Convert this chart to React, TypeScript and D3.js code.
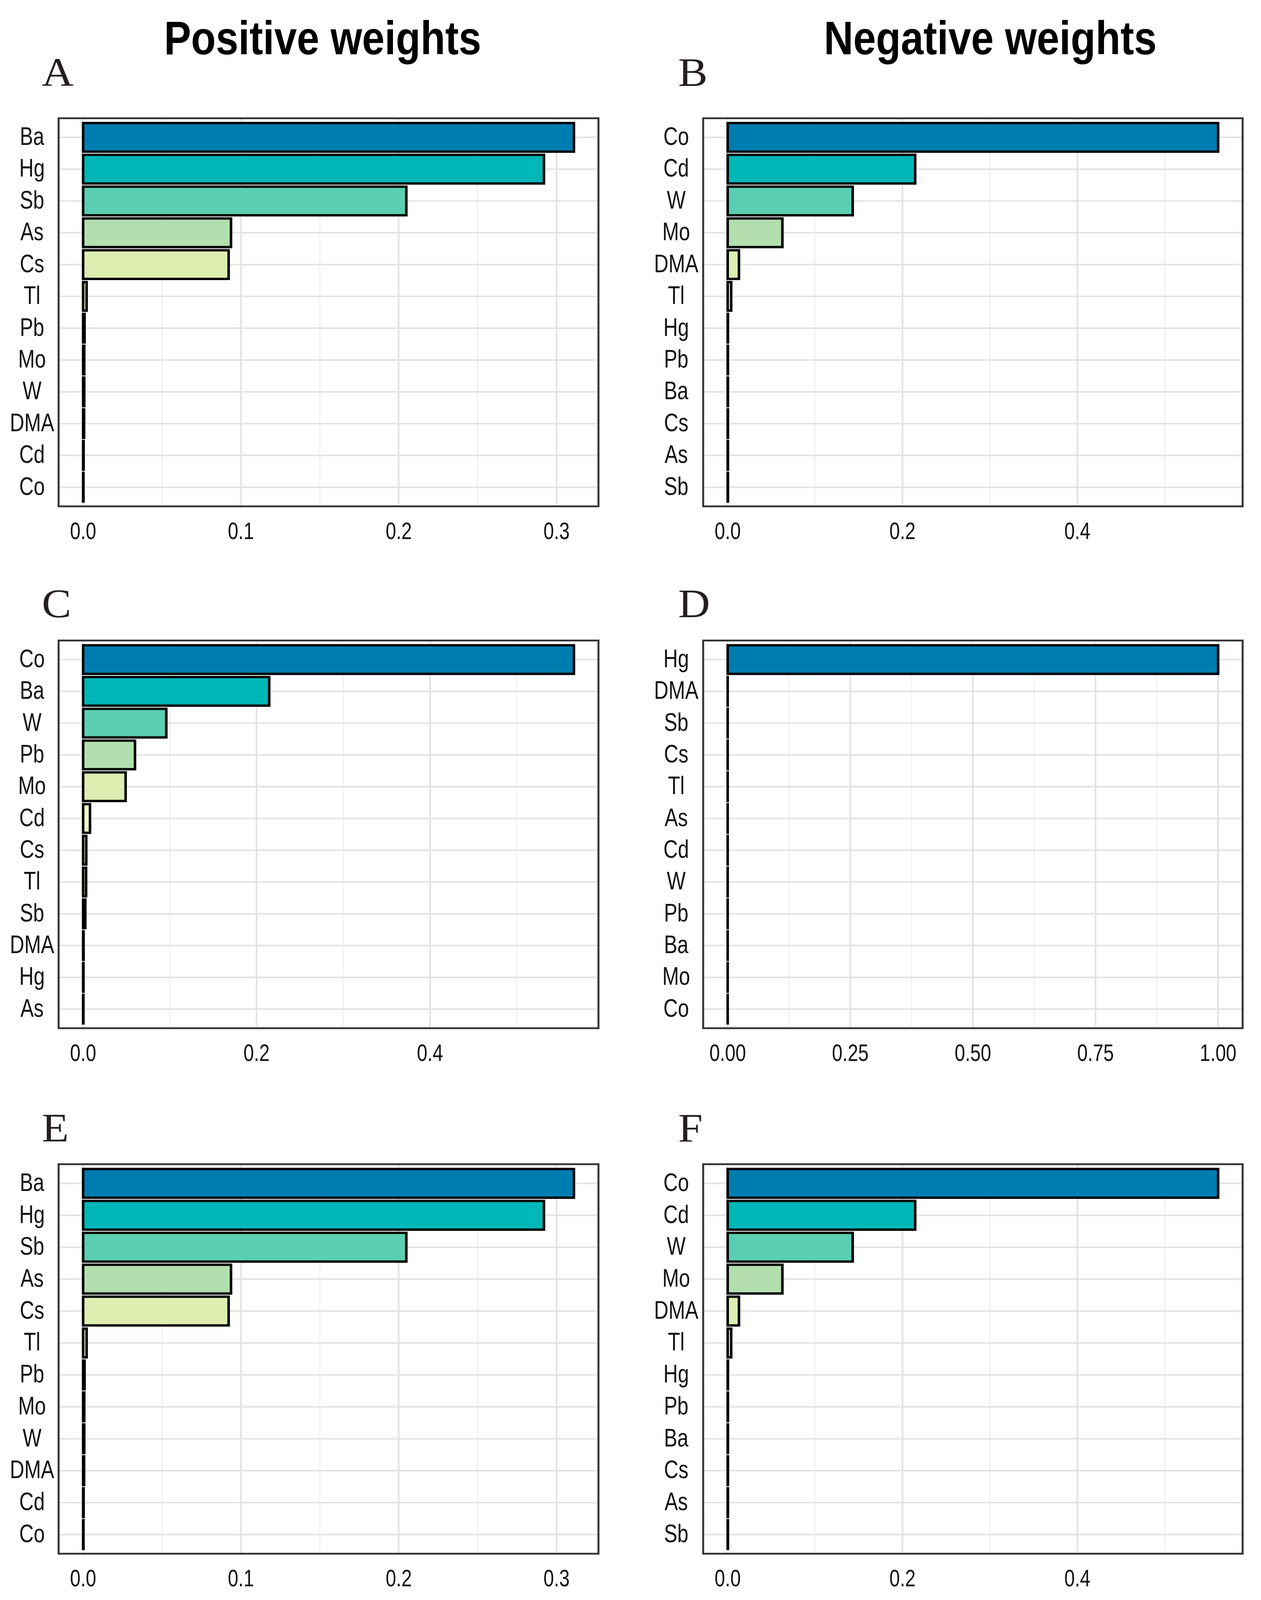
import React from 'react';
import * as d3 from 'd3';

const W = 3228;
const H = 4424;

// A: positive weights
const labelsA = ['Ba', 'Hg', 'Sb', 'As', 'Cs', 'Tl', 'Pb', 'Mo', 'W', 'DMA', 'Cd', 'Co'];
const valuesA = [0.311, 0.292, 0.2048, 0.0937, 0.0922, 0.0022, 0.0009, 0.0007, 0.0007, 0.0006, 0.0003, 0.0002];

// B: negative weights
const labelsB = ['Co', 'Cd', 'W', 'Mo', 'DMA', 'Tl', 'Hg', 'Pb', 'Ba', 'Cs', 'As', 'Sb'];
const valuesB = [0.561, 0.2145, 0.143, 0.0626, 0.0129, 0.004, 0.0003, 0.0003, 0.0003, 0.0003, 0.0003, 0.0003];

// C: positive weights
const labelsC = ['Co', 'Ba', 'W', 'Pb', 'Mo', 'Cd', 'Cs', 'Tl', 'Sb', 'DMA', 'Hg', 'As'];
const valuesC = [0.566, 0.2146, 0.0959, 0.0598, 0.049, 0.0079, 0.0036, 0.0034, 0.0025, 0.0005, 0.0004, 0.0003];

// D: negative weights
const labelsD = ['Hg', 'DMA', 'Sb', 'Cs', 'Tl', 'As', 'Cd', 'W', 'Pb', 'Ba', 'Mo', 'Co'];
const valuesD = [1.0, 0, 0, 0, 0, 0, 0, 0, 0, 0, 0, 0];

// E: positive weights
const labelsE = ['Ba', 'Hg', 'Sb', 'As', 'Cs', 'Tl', 'Pb', 'Mo', 'W', 'DMA', 'Cd', 'Co'];
const valuesE = [0.311, 0.292, 0.2048, 0.0937, 0.0922, 0.0022, 0.0009, 0.0007, 0.0007, 0.0006, 0.0003, 0.0002];

// F: negative weights
const labelsF = ['Co', 'Cd', 'W', 'Mo', 'DMA', 'Tl', 'Hg', 'Pb', 'Ba', 'Cs', 'As', 'Sb'];
const valuesF = [0.561, 0.2145, 0.143, 0.0626, 0.0129, 0.004, 0.0003, 0.0003, 0.0003, 0.0003, 0.0003, 0.0003];

// tick labels
const ticksSmall = [0, 0.1, 0.2, 0.3];
const minorSmall = [0.05, 0.15, 0.25];
const ticksMid = [0, 0.2, 0.4];
const minorMid = [0.1, 0.3, 0.5];
const ticksUnit = [0, 0.25, 0.5, 0.75, 1];
const minorUnit = [0.125, 0.375, 0.625, 0.875];

// fill by rank (largest first)
const rankColors = [
  '#007DB0', '#00B7B8', '#5ACFB1', '#B2DFAD', '#DEEDB0', '#F4F6CB',
  '#F7F9D6', '#F9FADE', '#FAFBE4', '#FBFCEA', '#FCFDF0', '#FDFEF6',
];

const titles = ['Positive weights', 'Negative weights'];

const COLS = [
  { left: 150, right: 1532, labelX: 82, letterX: 107 },
  { left: 1800, right: 3181, labelX: 1731, letterX: 1736 },
];
const ROWS = [
  { top: 327, bottom: 1400, letterY: 238 },
  { top: 1771, bottom: 2843, letterY: 1706 },
  { top: 3219, bottom: 4296, letterY: 3156 },
];

const panels = [
  { letter: 'A', labels: labelsA, values: valuesA, ticks: ticksSmall, minor: minorSmall, fmt: '.1f', col: 0, row: 0 },
  { letter: 'B', labels: labelsB, values: valuesB, ticks: ticksMid, minor: minorMid, fmt: '.1f', col: 1, row: 0 },
  { letter: 'C', labels: labelsC, values: valuesC, ticks: ticksMid, minor: minorMid, fmt: '.1f', col: 0, row: 1 },
  { letter: 'D', labels: labelsD, values: valuesD, ticks: ticksUnit, minor: minorUnit, fmt: '.2f', col: 1, row: 1 },
  { letter: 'E', labels: labelsE, values: valuesE, ticks: ticksSmall, minor: minorSmall, fmt: '.1f', col: 0, row: 2 },
  { letter: 'F', labels: labelsF, values: valuesF, ticks: ticksMid, minor: minorMid, fmt: '.1f', col: 1, row: 2 },
];

const SANS = 'Liberation Sans, Arial, sans-serif';
const SERIF = 'Liberation Serif, Times New Roman, serif';
const SQUEEZE = 0.73;

function Narrow({ x, y, size, children }: { x: number; y: number; size: number; children: React.ReactNode }) {
  return (
    <text
      transform={`translate(${x},${y}) scale(${SQUEEZE},1)`}
      textAnchor="middle"
      fontFamily={SANS}
      fontSize={size}
      fill="#111"
    >
      {children}
    </text>
  );
}

function Panel({ p }: { p: typeof panels[number] }) {
  const { left, right, labelX, letterX } = COLS[p.col];
  const { top, bottom, letterY } = ROWS[p.row];
  const max = d3.max(p.values) as number;

  const x = d3.scaleLinear().domain([-0.05 * max, 1.05 * max]).range([left, right]);
  const y = d3.scaleBand<string>().domain(p.labels).range([top, bottom]).paddingInner(0.1).paddingOuter(0.15);
  const fmt = d3.format(p.fmt);

  return (
    <g>
      <text x={letterX} y={letterY} fontFamily={SERIF} fontSize={113} fill="#231F20">
        {p.letter}
      </text>
      <rect x={left} y={top} width={right - left} height={bottom - top} fill="#fff" />
      {/* minor grid */}
      {p.minor.map((t) => (
        <line key={'mn' + t} x1={x(t)} x2={x(t)} y1={top} y2={bottom} stroke="#EDEDED" strokeWidth={2.4} />
      ))}
      {/* major grid */}
      {p.ticks.map((t) => (
        <line key={'mj' + t} x1={x(t)} x2={x(t)} y1={top} y2={bottom} stroke="#E4E4E4" strokeWidth={4.5} />
      ))}
      {p.labels.map((l) => {
        const cy = (y(l) as number) + y.bandwidth() / 2;
        return <line key={'h' + l} x1={left} x2={right} y1={cy} y2={cy} stroke="#E4E4E4" strokeWidth={4.5} />;
      })}
      {/* bars */}
      {p.labels.map((l, i) => (
        <rect
          key={'b' + l}
          x={x(0)}
          y={y(l) as number}
          width={Math.max(x(p.values[i]) - x(0), 0.01)}
          height={y.bandwidth()}
          fill={rankColors[i]}
          stroke="#000"
          strokeWidth={6.5}
        />
      ))}
      <rect x={left} y={top} width={right - left} height={bottom - top} fill="none" stroke="#333" strokeWidth={5} />
      {/* y labels */}
      {p.labels.map((l) => (
        <Narrow key={'yl' + l} x={labelX} y={(y(l) as number) + y.bandwidth() / 2 + 21} size={70}>
          {l}
        </Narrow>
      ))}
      {/* x tick labels */}
      {p.ticks.map((t) => (
        <Narrow key={'xl' + t} x={x(t)} y={bottom + 90} size={66}>
          {fmt(t)}
        </Narrow>
      ))}
    </g>
  );
}

export default function App() {
  return (
    <svg
      width="100%"
      height="100%"
      viewBox={`0 0 ${W} ${H}`}
      preserveAspectRatio="none"
      style={{ position: 'fixed', left: 0, top: 0, display: 'block' }}
    >
      <rect width={W} height={H} fill="#fff" />
      <text x={826} y={150} textAnchor="middle" fontFamily={SANS} fontWeight="bold" fontSize={130}
        textLength={812} lengthAdjust="spacingAndGlyphs" fill="#000">
        {titles[0]}
      </text>
      <text x={2535} y={150} textAnchor="middle" fontFamily={SANS} fontWeight="bold" fontSize={130}
        textLength={852} lengthAdjust="spacingAndGlyphs" fill="#000">
        {titles[1]}
      </text>
      {panels.map((p) => (
        <Panel key={p.letter} p={p} />
      ))}
    </svg>
  );
}
